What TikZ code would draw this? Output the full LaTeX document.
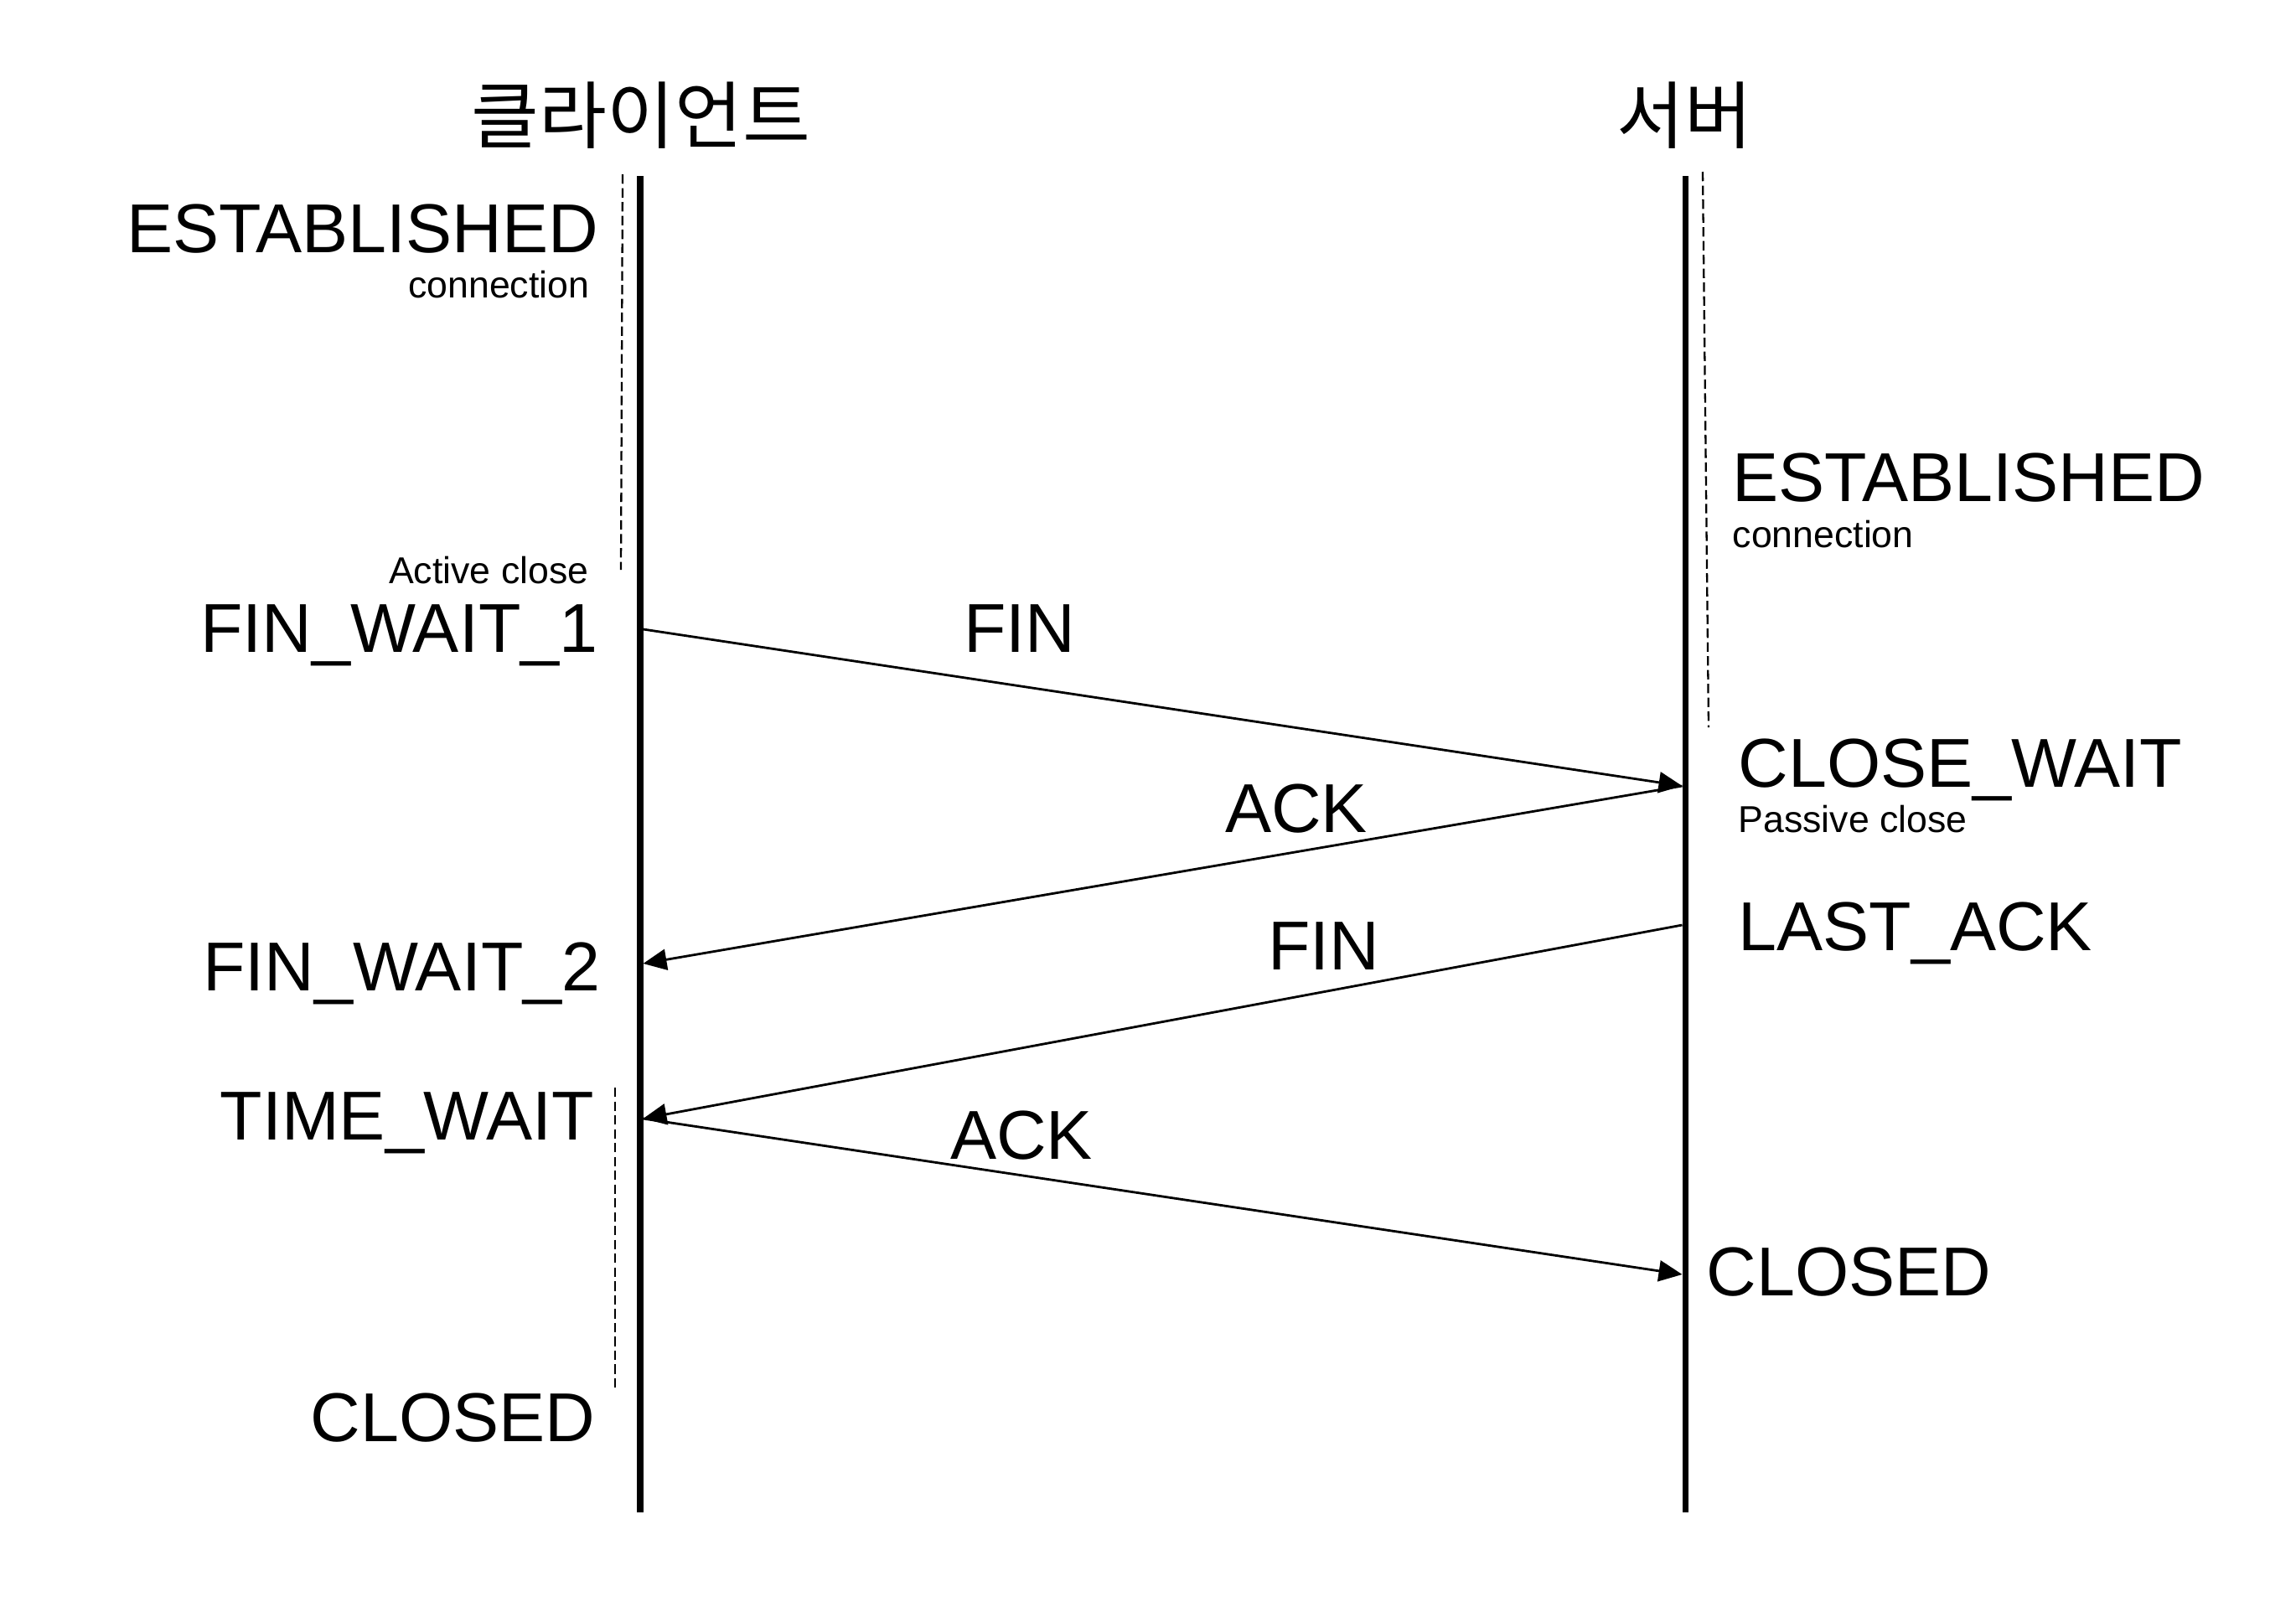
\documentclass[tikz,border=0pt]{standalone}
\usepackage{fontspec}
\setmainfont{Liberation Sans}
\newfontfamily\korfont{Noto Sans CJK KR}
\usetikzlibrary{arrows.meta}

\begin{document}
\begin{tikzpicture}[>={Triangle[length=2.8mm,width=2.5mm]}]
    \tikzstyle{lifeline} = [line width=2pt]
    \tikzstyle{msg} = [->,line width=0.8pt]
    \tikzstyle{timer} = [line width=0.65pt,dash pattern=on 3.2pt off 1.5pt]
    \tikzstyle{state} = [inner sep=0pt,font=\fontsize{23.5}{28}\selectfont]
    \tikzstyle{note} = [inner sep=0pt,font=\fontsize{12.7}{15}\selectfont]
    \tikzstyle{host} = [inner sep=0pt,font=\korfont\fontsize{25}{30}\selectfont]
    \useasboundingbox (0,0) rectangle (27.4,-19.05);
    \node[host] (client) at (7.65,-1.38) {클라이언트};
    \node[host] (server) at (20.10,-1.38) {서버};
    \coordinate (ctop) at (7.64,-2.10);
    \coordinate (cbot) at (7.64,-18.05);
    \coordinate (stop) at (20.11,-2.10);
    \coordinate (sbot) at (20.11,-18.05);
    \draw[lifeline] (ctop) -- (cbot);
    \draw[lifeline] (stop) -- (sbot);
    % timers
    \draw[timer] (7.43,-2.08) -- (7.41,-6.80);
    \draw[timer] (20.32,-2.05) -- (20.39,-8.68);
    \draw[timer] (7.34,-12.98) -- (7.34,-16.57);
    % client states
    \node[state,anchor=base east] (cest) at (7.15,-3.01) {ESTABLISHED};
    \node[note,anchor=base east] (cconn) at (7.04,-3.55) {connection};
    \node[note,anchor=base east] (active) at (7.03,-6.96) {Active close};
    \node[state,anchor=base east] (fw1) at (7.14,-7.78) {FIN\_WAIT\_1};
    \node[state,anchor=base east] (fw2) at (7.17,-11.82) {FIN\_WAIT\_2};
    \node[state,anchor=base east] (tw) at (7.10,-13.60) {TIME\_WAIT};
    \node[state,anchor=base east] (cclosed) at (7.11,-17.20) {CLOSED};
    % server states
    \node[state,anchor=base west] (sest) at (20.67,-5.98) {ESTABLISHED};
    \node[note,anchor=base west] (sconn) at (20.67,-6.53) {connection};
    \node[state,anchor=base west] (cw) at (20.74,-9.39) {CLOSE\_WAIT};
    \node[note,anchor=base west] (passive) at (20.74,-9.93) {Passive close};
    \node[state,anchor=base west] (la) at (20.74,-11.34) {LAST\_ACK};
    \node[state,anchor=base west] (sclosed) at (20.36,-15.46) {CLOSED};
    % messages
    \coordinate (c1) at (7.675,-7.51);
    \coordinate (s1) at (20.075,-9.38);
    \coordinate (c2) at (7.675,-11.50);
    \coordinate (s2) at (20.075,-11.04);
    \coordinate (c3) at (7.675,-13.35);
    \coordinate (s3) at (20.075,-15.21);
    \draw[msg] (c1) -- (s1);
    \draw[msg] (s1) -- (c2);
    \draw[msg] (s2) -- (c3);
    \draw[msg] (c3) -- (s3);
    \node[state,anchor=base] (fin1) at (12.17,-7.78) {FIN};
    \node[state,anchor=base] (ack1) at (15.47,-9.93) {ACK};
    \node[state,anchor=base] (fin2) at (15.80,-11.57) {FIN};
    \node[state,anchor=base] (ack2) at (12.19,-13.83) {ACK};
\end{tikzpicture}
\end{document}
